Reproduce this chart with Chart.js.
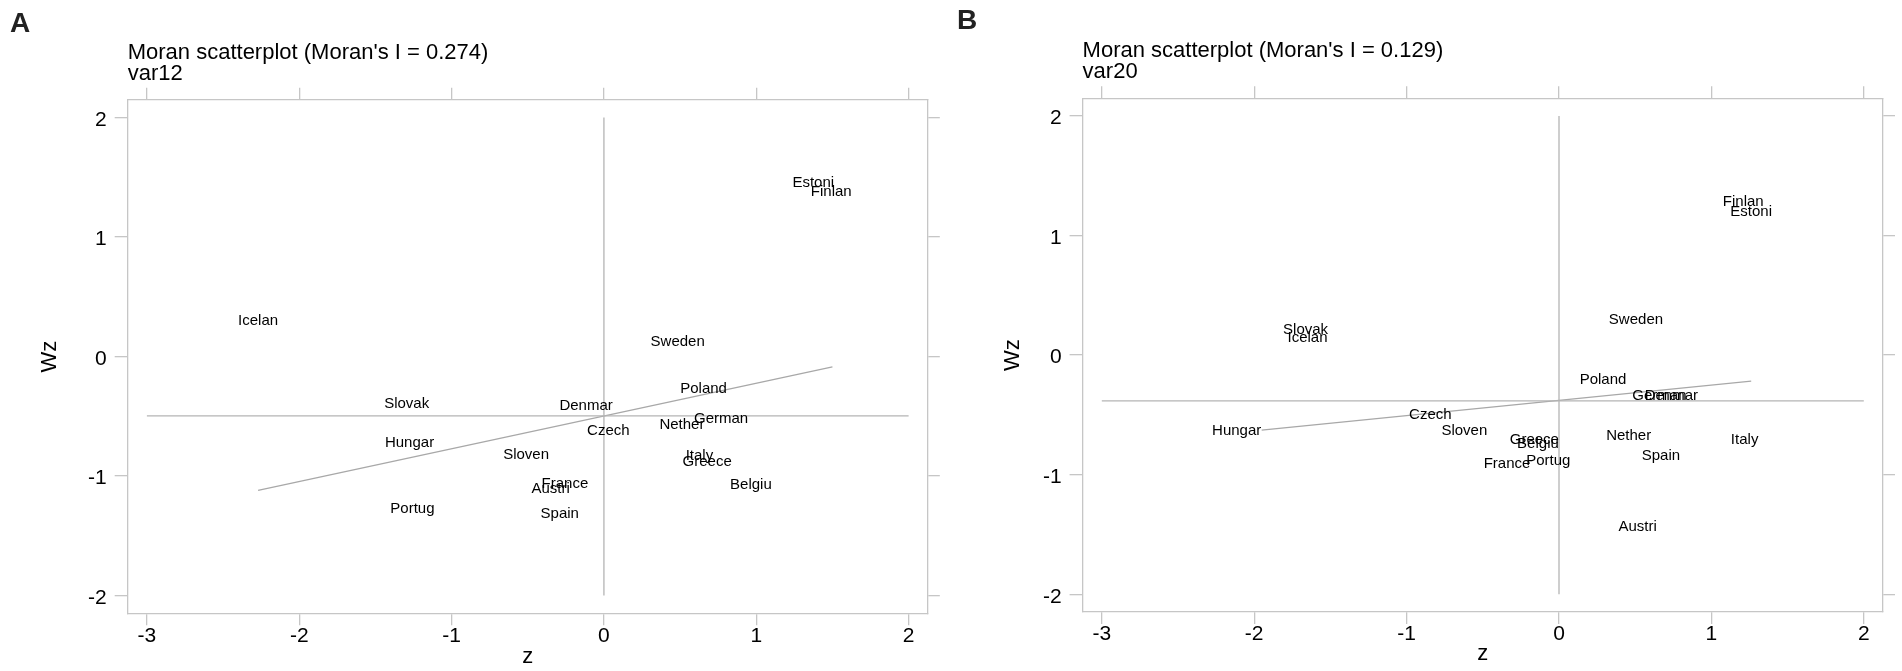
<!DOCTYPE html>
<html>
<head>
<meta charset="utf-8">
<title>Moran scatterplots</title>
<script src="https://cdn.jsdelivr.net/npm/chart.js@4.4.1/dist/chart.umd.min.js"></script>
<style>
    html, body { margin: 0; padding: 0; background: #fff; }
    #wrap { position: relative; width: 1902px; height: 671px; background: #fff; overflow: hidden; }
    #wrap canvas { position: absolute; top: 0; }
</style>
</head>
<body>
<div id="wrap">
    <canvas id="panelA" width="951" height="671" style="left:0px"></canvas>
    <canvas id="panelB" width="951" height="671" style="left:951px"></canvas>
</div>
<script>
// ---- data ----
const xTickValues = [-3, -2, -1, 0, 1, 2];
const yTickValues = [-2, -1, 0, 1, 2];

// panel A : var12
const countriesA = ['Estoni', 'Finlan', 'Icelan', 'Sweden', 'Poland', 'Slovak', 'Denmar', 'German', 'Nether', 'Czech',
    'Hungar', 'Sloven', 'Italy', 'Greece', 'France', 'Austri', 'Belgiu', 'Portug', 'Spain'];
const zA = [1.374, 1.492, -2.27, 0.484, 0.654, -1.295, -0.117, 0.769, 0.512, 0.029,
    -1.276, -0.511, 0.627, 0.678, -0.256, -0.35, 0.965, -1.257, -0.29];
const wzA = [1.45, 1.378, 0.301, 0.122, -0.267, -0.398, -0.415, -0.518, -0.574, -0.621,
    -0.72, -0.819, -0.83, -0.88, -1.061, -1.111, -1.073, -1.274, -1.312];
const meanWzA = -0.496;
const fitA = [[-2.27, -1.12], [1.5, -0.087]];

// panel B : var20
const countriesB = ['Finlan', 'Estoni', 'Sweden', 'Slovak', 'Icelan', 'Poland', 'German', 'Denmar', 'Czech', 'Hungar',
    'Sloven', 'Greece', 'Belgiu', 'Nether', 'Italy', 'Spain', 'France', 'Portug', 'Austri'];
const zB = [1.209, 1.261, 0.505, -1.663, -1.65, 0.289, 0.659, 0.737, -0.844, -2.115,
    -0.621, -0.162, -0.138, 0.457, 1.218, 0.669, -0.341, -0.07, 0.516];
const wzB = [1.281, 1.198, 0.293, 0.209, 0.14, -0.203, -0.34, -0.34, -0.501, -0.633,
    -0.633, -0.71, -0.745, -0.673, -0.712, -0.84, -0.911, -0.882, -1.44];
const meanWzB = -0.382;
const fitB = [[-1.951, -0.627], [1.261, -0.217]];

// reference lines (same in both panels)
const meanLineZ = [-3, 2];
const zeroLineWz = [-2, 2];

// ---- style ----
Chart.defaults.font.family = "'Liberation Sans', Arial, Helvetica, sans-serif";
Chart.defaults.color = '#000';

const frameColor = '#c6c6c6';
const refLineColor = '#b4b4b4';
const fitLineColor = '#a8a8a8';

// country names written at each point (labels centered on the point)
const pointLabels = {
    id: 'pointLabels',
    afterDatasetsDraw(chart) {
        const { ctx } = chart;
        chart.data.datasets.forEach((ds, i) => {
            if (!ds.names) return;
            const meta = chart.getDatasetMeta(i);
            ctx.save();
            ctx.font = "15px 'Liberation Sans', Arial, sans-serif";
            ctx.fillStyle = '#000';
            ctx.textAlign = 'center';
            ctx.textBaseline = 'middle';
            meta.data.forEach((pt, j) => {
                ctx.fillText(ds.names[j], pt.x, pt.y);
            });
            ctx.restore();
        });
    }
};

function setTicks(values) {
    return (scale) => { scale.ticks = values.map(v => ({ value: v })); };
}

function makePanel(canvasId, letter, titleText, varName, names, zs, wzs, meanWz, fit, box) {
    const points = zs.map((z, i) => ({ x: z, y: wzs[i] }));

    const tickGrid = (len) => ({
        drawOnChartArea: false,
        drawTicks: true,
        tickLength: len,
        color: frameColor,
        lineWidth: 1.3
    });
    const border = { display: true, color: frameColor, width: 1.3 };

    return new Chart(document.getElementById(canvasId), {
        type: 'scatter',
        data: {
            datasets: [
                {
                    data: points,
                    names: names,
                    pointRadius: 0,
                    pointHoverRadius: 0
                },
                {
                    // horizontal line at mean of Wz
                    data: meanLineZ.map(z => ({ x: z, y: meanWz })),
                    showLine: true,
                    borderColor: refLineColor,
                    borderWidth: 1.3,
                    pointRadius: 0
                },
                {
                    // vertical line at z = 0
                    data: zeroLineWz.map(w => ({ x: 0, y: w })),
                    showLine: true,
                    borderColor: refLineColor,
                    borderWidth: 1.3,
                    pointRadius: 0
                },
                {
                    // fitted line
                    data: fit.map(p => ({ x: p[0], y: p[1] })),
                    showLine: true,
                    borderColor: fitLineColor,
                    borderWidth: 1.3,
                    pointRadius: 0
                }
            ]
        },
        options: {
            responsive: false,
            maintainAspectRatio: false,
            animation: false,
            events: [],
            layout: { padding: { left: box.padLeft, right: 0, top: 0, bottom: 0 } },
            plugins: {
                legend: { display: false },
                tooltip: { enabled: false },
                title: {
                    display: true,
                    text: letter,
                    align: 'start',
                    color: '#222',
                    font: { size: 28, weight: 'bold', lineHeight: 1 },
                    padding: { top: box.titlePad, bottom: 0 }
                },
                subtitle: {
                    display: true,
                    fullSize: false, // keeps it aligned with the plot frame
                    text: [titleText, varName],
                    align: 'start',
                    color: '#000',
                    font: { size: 22, lineHeight: '21px' },
                    padding: { top: box.subPad, bottom: 0 }
                }
            },
            scales: {
                x: {
                    type: 'linear',
                    position: 'bottom',
                    min: -3.126,
                    max: 2.126,
                    afterBuildTicks: setTicks(xTickValues),
                    afterFit: (s) => { s.height = box.bottomH; },
                    grid: tickGrid(12),
                    border: border,
                    ticks: { font: { size: 21, lineHeight: 1 }, padding: 0, maxRotation: 0, autoSkip: false },
                    title: { display: true, text: 'z', font: { size: 22, lineHeight: 1 }, padding: { top: 0, bottom: box.zPad } }
                },
                x2: {
                    type: 'linear',
                    axis: 'x',
                    position: 'top',
                    min: -3.126,
                    max: 2.126,
                    afterBuildTicks: setTicks(xTickValues),
                    afterFit: (s) => { s.height = box.topH; },
                    grid: tickGrid(12),
                    border: border,
                    ticks: { display: false }
                },
                y: {
                    type: 'linear',
                    position: 'left',
                    min: -2.148,
                    max: 2.148,
                    afterBuildTicks: setTicks(yTickValues),
                    afterFit: (s) => { s.width = box.leftW; },
                    grid: tickGrid(13),
                    border: border,
                    ticks: { font: { size: 21, lineHeight: 1 }, padding: 8, labelOffset: 2.5, autoSkip: false },
                    title: { display: true, text: 'Wz', font: { size: 22, lineHeight: 1 }, padding: { top: box.wzPad, bottom: 0 } }
                },
                y2: {
                    type: 'linear',
                    axis: 'y',
                    position: 'right',
                    min: -2.148,
                    max: 2.148,
                    afterBuildTicks: setTicks(yTickValues),
                    afterFit: (s) => { s.width = box.rightW; },
                    grid: tickGrid(12),
                    border: border,
                    ticks: { display: false }
                }
            }
        },
        plugins: [pointLabels]
    });
}

makePanel('panelA', 'A', "Moran scatterplot (Moran's I = 0.274)", 'var12', countriesA, zA, wzA, meanWzA, fitA,
    { padLeft: 10, leftW: 117.7, rightW: 23.2, topH: 15.8, bottomH: 57.7, titlePad: 10, subPad: 4, zPad: 2.6, wzPad: 28.7 });

makePanel('panelB', 'B', "Moran scatterplot (Moran's I = 0.129)", 'var20', countriesB, zB, wzB, meanWzB, fitB,
    { padLeft: 6, leftW: 125.6, rightW: 19, topH: 16.2, bottomH: 59, titlePad: 7.7, subPad: 4.3, zPad: 6, wzPad: 45 });
</script>
</body>
</html>
